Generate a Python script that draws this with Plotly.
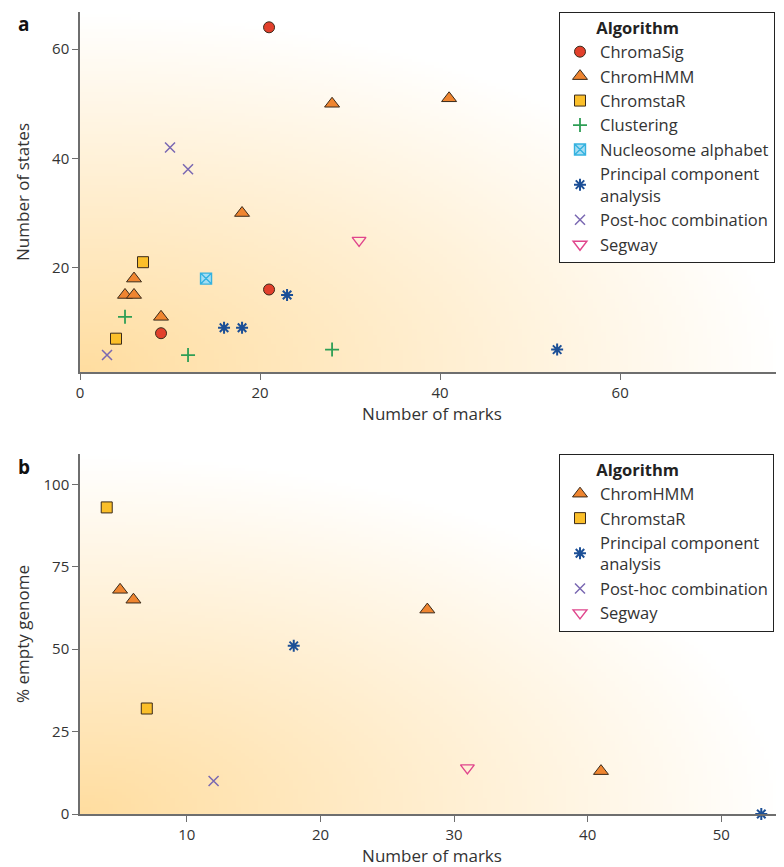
import base64, struct, zlib
import plotly.graph_objects as go

# ---------------- data ----------------
# Panel a: number of marks vs number of states
a_chromasig_x = [21, 21, 9]
a_chromasig_y = [64, 16, 8]
a_chromhmm_x = [28, 41, 18, 6, 5, 6, 9]
a_chromhmm_y = [50, 51, 30, 18, 15, 15, 11]
a_chromstar_x = [7, 4]
a_chromstar_y = [21, 7]
a_clustering_x = [5, 12, 28]
a_clustering_y = [11, 4, 5]
a_nucleosome_x = [14]
a_nucleosome_y = [18]
a_pca_x = [16, 18, 23, 53]
a_pca_y = [9, 9, 15, 5]
a_posthoc_x = [10, 12, 3]
a_posthoc_y = [42, 38, 4]
a_segway_x = [31]
a_segway_y = [25]

# Panel b: number of marks vs % empty genome
b_chromhmm_x = [5, 6, 28, 41]
b_chromhmm_y = [68, 65, 62, 13]
b_chromstar_x = [4, 7]
b_chromstar_y = [93, 32]
b_pca_x = [18, 53]
b_pca_y = [51, 0]
b_posthoc_x = [12]
b_posthoc_y = [10]
b_segway_x = [31]
b_segway_y = [14]

a_xticks = [0, 20, 40, 60]
a_yticks = [20, 40, 60]
b_xticks = [10, 20, 30, 40, 50]
b_yticks = [0, 25, 50, 75, 100]

# ---------------- styles ----------------
DARK = "#3a2a1a"
styles = {
    "ChromaSig": dict(symbol="circle", color="#e2402c", line=dict(color=DARK, width=1), size=11),
    "ChromHMM": dict(symbol="triangle-up", color="#ef8530", line=dict(color=DARK, width=1), size=13),
    "ChromstaR": dict(symbol="square", color="#fbbf2a", line=dict(color=DARK, width=1), size=11),
    "Clustering": dict(symbol="cross-thin-open", color="#2e9e55", line=dict(color="#2e9e55", width=1.8), size=10),
    "Nucleosome alphabet": dict(symbol="square-x", color="#a6def3", line=dict(color="#35b2e0", width=1.4), size=11),
    "Principal component<br>analysis": dict(symbol="asterisk-open", color="#1c4f96", line=dict(color="#1c4f96", width=2), size=10),
    "Post-hoc combination": dict(symbol="x-thin-open", color="#7a68b2", line=dict(color="#7a68b2", width=1.5), size=10),
    "Segway": dict(symbol="triangle-down-open", color="#e0458c", line=dict(color="#e0458c", width=1.4), size=12),
}

fig = go.Figure()

def add(name, xs, ys, xa, ya, legend):
    st = styles[name]
    fig.add_trace(go.Scatter(
        x=xs, y=ys, mode="markers", name=name, xaxis=xa, yaxis=ya, legend=legend,
        marker=dict(symbol=st["symbol"], color=st["color"], size=st["size"], line=st["line"]),
        hoverinfo="skip", cliponaxis=False,
    ))

add("ChromaSig", a_chromasig_x, a_chromasig_y, "x", "y", "legend")
add("ChromHMM", a_chromhmm_x, a_chromhmm_y, "x", "y", "legend")
add("ChromstaR", a_chromstar_x, a_chromstar_y, "x", "y", "legend")
add("Clustering", a_clustering_x, a_clustering_y, "x", "y", "legend")
add("Nucleosome alphabet", a_nucleosome_x, a_nucleosome_y, "x", "y", "legend")
add("Principal component<br>analysis", a_pca_x, a_pca_y, "x", "y", "legend")
add("Post-hoc combination", a_posthoc_x, a_posthoc_y, "x", "y", "legend")
add("Segway", a_segway_x, a_segway_y, "x", "y", "legend")

add("ChromHMM", b_chromhmm_x, b_chromhmm_y, "x2", "y2", "legend2")
add("ChromstaR", b_chromstar_x, b_chromstar_y, "x2", "y2", "legend2")
add("Principal component<br>analysis", b_pca_x, b_pca_y, "x2", "y2", "legend2")
add("Post-hoc combination", b_posthoc_x, b_posthoc_y, "x2", "y2", "legend2")
add("Segway", b_segway_x, b_segway_y, "x2", "y2", "legend2")

# ---------------- background gradient image ----------------
def gradient_png(w=160, h=120, c0=(255, 221, 160)):
    rows = []
    for j in range(h):
        v = (h - 1 - j) / (h - 1)
        row = bytearray()
        for i in range(w):
            u = i / (w - 1)
            d = min((u * u + v * v) ** 0.5, 1.0)
            row += bytes(int(round(c + (255 - c) * d)) for c in c0)
        rows.append(b"\x00" + bytes(row))
    raw = b"".join(rows)
    def chunk(t, data):
        return struct.pack(">I", len(data)) + t + data + struct.pack(">I", zlib.crc32(t + data) & 0xffffffff)
    png = b"\x89PNG\r\n\x1a\n" + chunk(b"IHDR", struct.pack(">IIBBBBB", w, h, 8, 2, 0, 0, 0)) \
        + chunk(b"IDAT", zlib.compress(raw, 9)) + chunk(b"IEND", b"")
    return "data:image/png;base64," + base64.b64encode(png).decode()

bg = gradient_png()

FONT = "Open Sans"
TXT = "#333333"
# page has an 8px body margin, so figure coordinates are page coordinates minus 8
W, H = 776, 859
ml, mr, mt, mb = 72, 0, 4, 53
pw = W - ml - mr
ph = H - mt - mb
a_bottom = 1 - (364 - mt) / ph
b_top = 1 - (446 - mt) / ph

axis_common = dict(showgrid=False, zeroline=False, showline=True, linecolor="#6e6e6e", linewidth=1.5,
                   ticks="outside", ticklen=6, tickcolor="#6e6e6e", tickwidth=1,
                   tickfont=dict(family=FONT, size=15, color=TXT), mirror=False, automargin=False)
title_font = dict(family=FONT, size=17, color=TXT)
leg_font = dict(family=FONT, size=16.5, color=TXT)
leg_x = (551 - ml) / pw
leg_title = "\u00a0" * 8 + "<b>Algorithm</b>"

fig.update_layout(
    width=W, height=H,
    margin=dict(l=ml, r=mr, t=mt, b=mb, autoexpand=False),
    paper_bgcolor="white", plot_bgcolor="white",
    font=dict(family=FONT, color=TXT),
    xaxis=dict(domain=[0, 1], range=[0, 78.2], tickvals=a_xticks, anchor="y",
               title=dict(text="Number of marks", font=title_font, standoff=0), **axis_common),
    yaxis=dict(domain=[a_bottom, 1], range=[0.9, 66.8], tickvals=a_yticks, anchor="x",
               title=dict(text="Number of states", font=title_font, standoff=18), **axis_common),
    xaxis2=dict(domain=[0, 1], range=[2, 54.7], tickvals=b_xticks, anchor="y2",
                title=dict(text="Number of marks", font=title_font, standoff=0), **axis_common),
    yaxis2=dict(domain=[0, b_top], range=[0, 109.2], tickvals=b_yticks, anchor="x2",
                title=dict(text="% empty genome", font=title_font, standoff=10), **axis_common),
    images=[
        dict(source=bg, xref="x domain", yref="y domain", x=0, y=1, sizex=1, sizey=1,
             sizing="stretch", xanchor="left", yanchor="top", layer="below"),
        dict(source=bg, xref="x2 domain", yref="y2 domain", x=0, y=1, sizex=1, sizey=1,
             sizing="stretch", xanchor="left", yanchor="top", layer="below"),
    ],
    legend=dict(x=leg_x, y=1, xanchor="left", yanchor="top",
                bgcolor="white", bordercolor="#222222", borderwidth=1,
                font=leg_font, tracegroupgap=0,
                title=dict(text=leg_title, font=dict(family=FONT, size=16.5, color="#222"))),
    legend2=dict(x=leg_x, y=b_top, xanchor="left", yanchor="top",
                 bgcolor="white", bordercolor="#222222", borderwidth=1,
                 font=leg_font, tracegroupgap=0,
                 title=dict(text=leg_title, font=dict(family=FONT, size=16.5, color="#222"))),
    annotations=[
        dict(text="<b>a</b>", xref="paper", yref="paper", x=(8 - ml) / pw, y=1 + 3 / ph,
             xanchor="left", yanchor="top", showarrow=False, font=dict(family=FONT, size=19, color="#111")),
        dict(text="<b>b</b>", xref="paper", yref="paper", x=(8 - ml) / pw, y=b_top + 2 / ph,
             xanchor="left", yanchor="top", showarrow=False, font=dict(family=FONT, size=19, color="#111")),
    ],
    showlegend=True,
)

fig.write_html("out.html")
